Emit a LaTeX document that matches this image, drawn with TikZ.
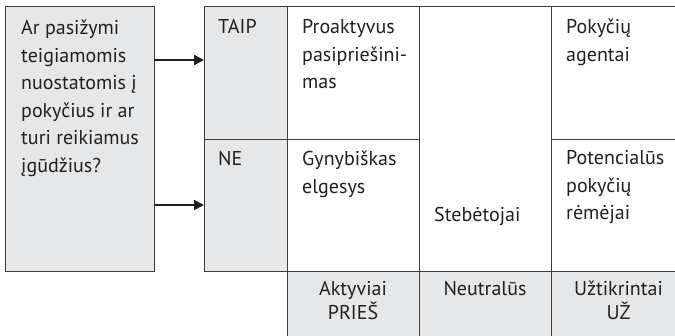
\documentclass[tikz,border=0pt]{standalone}
\usepackage{fontspec}
\setmainfont{PT Sans}
\usetikzlibrary{arrows.meta}
\definecolor{cellgrey}{HTML}{E6E7E8}
\definecolor{linegrey}{HTML}{3C3C3C}
\definecolor{txt}{HTML}{231F20}
\newcommand{\mylines}[1]{\begin{tabular}[t]{@{}l@{}}#1\end{tabular}}
\newcommand{\myclines}[1]{\begin{tabular}[t]{@{}c@{}}#1\end{tabular}}
\begin{document}
\begin{tikzpicture}[x=1pt,y=-1pt,
  cell/.style={draw=linegrey, line width=0.9pt, inner sep=0pt, outer sep=0pt, anchor=north west, fill=white},
  greycell/.style={cell, fill=cellgrey},
  lbl/.style={anchor=base west, inner sep=0pt, text=txt, font=\fontsize{20}{27.5}\selectfont},
  clbl/.style={anchor=base, inner sep=0pt, text=txt, font=\fontsize{20}{21}\selectfont},
  arr/.style={line width=1.6pt, draw=txt, -{Triangle[length=10pt,width=10pt]}}]
\useasboundingbox (0,0) rectangle (675,336);
\clip (0,0) rectangle (675,336);
% left question box
\node[greycell, minimum width=149pt, minimum height=265pt] (q) at (5,6) {};
% grid
\node[greycell, minimum width=83pt, minimum height=133pt] (taip) at (204,6) {};
\node[greycell, minimum width=83pt, minimum height=132pt] (ne) at (204,139) {};
\node[cell, minimum width=132pt, minimum height=133pt] (pro) at (287,6) {};
\node[cell, minimum width=132pt, minimum height=132pt] (gyn) at (287,139) {};
\node[cell, minimum width=132pt, minimum height=265pt] (steb) at (419,6) {};
\node[cell, minimum width=135pt, minimum height=133pt] (agent) at (551,6) {};
\node[cell, minimum width=135pt, minimum height=132pt] (remej) at (551,139) {};
\node[greycell, minimum width=132pt, minimum height=70pt] (akt) at (287,271) {};
\node[greycell, minimum width=132pt, minimum height=70pt] (neu) at (419,271) {};
\node[greycell, minimum width=135pt, minimum height=70pt] (uz) at (551,271) {};
% texts
\node[lbl] (tq) at (21,35) {\mylines{Ar pasižymi\\teigiamomis\\nuostatomis į\\pokyčius ir ar\\turi reikiamus\\įgūdžius?}};
\node[lbl] (ttaip) at (218,34) {TAIP};
\node[lbl] (tne) at (218,166) {NE};
\node[lbl] (tpro) at (302,34) {\mylines{Proaktyvus\\pasipriešini-\\mas}};
\node[lbl] (tgyn) at (302,166) {\mylines{Gynybiškas\\elgesys}};
\node[lbl] (tsteb) at (434,222) {Stebėtojai};
\node[lbl] (tagent) at (566,34) {\mylines{Pokyčių\\agentai}};
\node[lbl] (tremej) at (566,165) {\mylines{Potencialūs\\pokyčių\\rėmėjai}};
\node[clbl] (takt) at (353,296) {\myclines{Aktyviai\\PRIEŠ}};
\node[clbl] (tneu) at (485,296) {Neutralūs};
\node[clbl] (tuz) at (618.5,296) {\myclines{Užtikrintai\\UŽ}};
% arrows
\coordinate (a1) at (0,60);
\coordinate (a2) at (0,205);
\draw[arr] (q.east |- a1) -- (taip.west |- a1);
\draw[arr] (q.east |- a2) -- (ne.west |- a2);
\end{tikzpicture}
\end{document}
